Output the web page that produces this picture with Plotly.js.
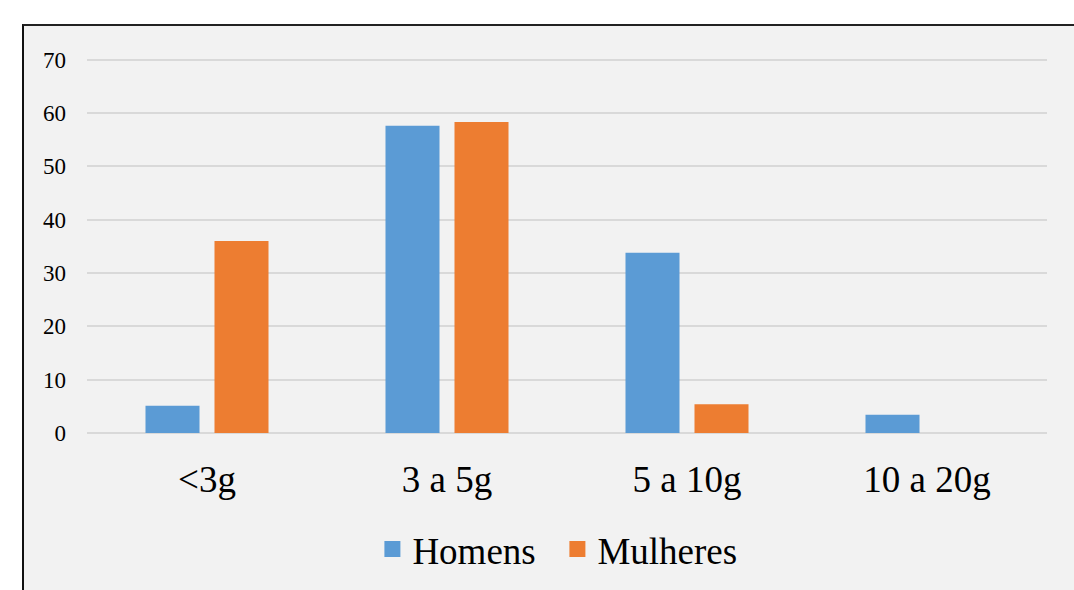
<!DOCTYPE html>
<html>
<head>
<meta charset="utf-8">
<script src="https://cdn.plot.ly/plotly-3.0.1.min.js"></script>
<style>
  html, body { margin: 0; padding: 0; background: #ffffff; overflow: hidden; }
  #frame {
    position: absolute; left: 22px; top: 24px;
    width: 1052px; height: 566px;
    border-left: 2px solid #111; border-top: 2px solid #222;
    background: #f2f2f2;
  }
  #chart { width: 1052px; height: 566px; }
</style>
</head>
<body>
<div id="frame"><div id="chart"></div></div>
<script>
const categories = ['<3g', '3 a 5g', '5 a 10g', '10 a 20g'];
const homens = [5.1, 57.6, 33.8, 3.4];
const mulheres = [36.0, 58.3, 5.4, 0];
const seriesNames = ['Homens', 'Mulheres'];
const colors = ['#5b9bd5', '#ed7d31'];
const yTicks = [0, 10, 20, 30, 40, 50, 60, 70];

const serif = '"Liberation Serif", "Times New Roman", serif';

const traces = [
  { type: 'bar', x: categories, y: homens, name: seriesNames[0], marker: { color: colors[0] }, showlegend: false, hoverinfo: 'x+y' },
  { type: 'bar', x: categories, y: mulheres, name: seriesNames[1], marker: { color: colors[1] }, showlegend: false, hoverinfo: 'x+y' },
  { type: 'scatter', mode: 'markers', x: [categories[0]], y: [null], name: seriesNames[0], marker: { symbol: 'square', size: 16, color: colors[0] }, showlegend: true, hoverinfo: 'skip' },
  { type: 'scatter', mode: 'markers', x: [categories[0]], y: [null], name: seriesNames[1], marker: { symbol: 'square', size: 16, color: colors[1] }, showlegend: true, hoverinfo: 'skip' }
];

const layout = {
  width: 1052, height: 566,
  paper_bgcolor: 'rgba(0,0,0,0)',
  plot_bgcolor: 'rgba(0,0,0,0)',
  margin: { l: 63, r: 29, t: 31, b: 159 },
  barmode: 'group',
  bargap: 0.425,
  bargroupgap: 0.217,
  font: { family: serif, color: '#000' },
  xaxis: {
    type: 'category',
    tickfont: { family: serif, size: 37, color: '#000' },
    showgrid: false, showline: false, zeroline: false,
    ticks: '', ticklabelstandoff: 21
  },
  yaxis: {
    range: [0, 70.5],
    tickvals: yTicks,
    ticktext: yTicks.map(String),
    tickfont: { family: serif, size: 23, color: '#000' },
    showgrid: true, gridcolor: '#d9d9d9', gridwidth: 2,
    zeroline: true, zerolinecolor: '#d9d9d9', zerolinewidth: 2,
    showline: false, ticks: '', ticklabelstandoff: 20
  },
  legend: {
    orientation: 'h', x: 0.49, xanchor: 'center', y: -0.31, yanchor: 'middle',
    font: { family: serif, size: 37, color: '#000' },
    bgcolor: 'rgba(0,0,0,0)', itemsizing: 'trace', entrywidth: 140
  }
};

Plotly.newPlot('chart', traces, layout, { displayModeBar: false, staticPlot: true });
</script>
</body>
</html>
